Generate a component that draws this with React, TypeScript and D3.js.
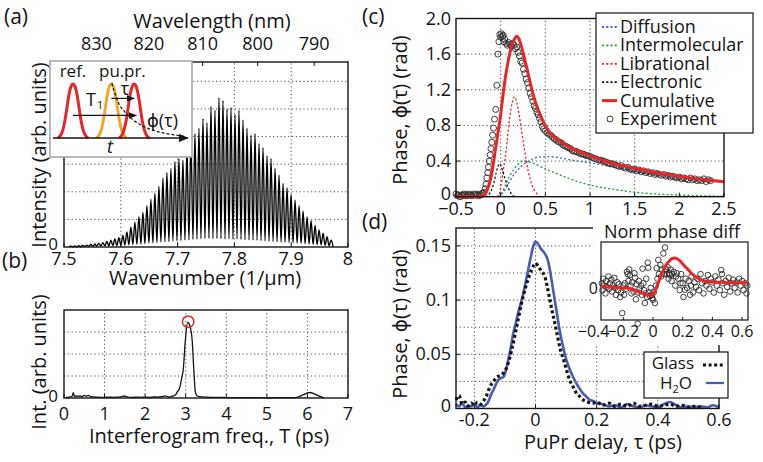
import React from 'react';
import * as d3 from 'd3';

const FONT = "'Open Sans', 'DejaVu Sans', sans-serif";
const INK = '#141414';
const RED = '#e5262b';
const GRID = { stroke: '#3a3a3a', strokeWidth: 0.9, strokeDasharray: '1.2 2.6' };

// ---------- (a) spectrum ----------
const wavenumberTicks = [7.5, 7.6, 7.7, 7.8, 7.9, 8];
const wavenumberLabels = ['7.5', '7.6', '7.7', '7.8', '7.9', '8'];
const wavelengthTicks = [830, 820, 810, 800, 790];
const intensityGrid = [1, 2, 3, 4, 5, 6];
const fringeStart = 7.512;
const fringePeriod = 0.00705;
const fringePeaks = [
  0.03, 0.04, 0.05, 0.06, 0.07, 0.09, 0.11, 0.13, 0.16, 0.2, 0.25, 0.29, 0.34, 0.42, 0.55, 0.72,
  0.9, 1.1, 1.25, 1.5, 1.72, 1.95, 2.2, 2.5, 2.7, 2.85, 3.1, 3.2, 3.15, 3.6, 4.0, 4.1, 4.3, 4.65,
  4.5, 5.1, 4.95, 5.4, 5.3, 5.0, 5.05, 4.8, 4.95, 4.6, 4.3, 4.05, 4.1, 3.75, 3.6, 3.3, 3.2, 2.85,
  2.6, 2.3, 2.15, 1.9, 1.7, 1.5, 1.3, 1.1, 0.95, 0.78, 0.62, 0.5, 0.37, 0.26,
];
const fringeTroughs = [
  0, 0.01, 0.01, 0.01, 0.02, 0.02, 0.02, 0.03, 0.03, 0.04, 0.04, 0.05, 0.05, 0.06, 0.07, 0.08,
  0.09, 0.1, 0.11, 0.12, 0.14, 0.15, 0.16, 0.18, 0.19, 0.2, 0.22, 0.23, 0.24, 0.25, 0.26, 0.27,
  0.28, 0.3, 0.3, 0.31, 0.3, 0.31, 0.3, 0.29, 0.3, 0.28, 0.29, 0.27, 0.26, 0.26, 0.25, 0.24, 0.23,
  0.22, 0.21, 0.2, 0.19, 0.18, 0.17, 0.16, 0.15, 0.14, 0.13, 0.12, 0.11, 0.1, 0.09, 0.08, 0.06,
  0.04, 0,
];
// schematic inset
const pulseProfile = [0, 0.03, 0.1, 0.25, 0.5, 0.78, 0.95, 1, 0.95, 0.78, 0.5, 0.25, 0.1, 0.03, 0];
const pulseTimes = [0, 0.96, 1.53];
const pulseColors = ['#e5262b', '#f2a62a', '#e5262b'];
const phaseDecay: [number, number][] = [
  [0.97, 1], [1.05, 0.8], [1.15, 0.62], [1.3, 0.47], [1.5, 0.33], [1.8, 0.2], [2.2, 0.1], [2.6, 0.05], [2.8, 0.03],
];

// ---------- (b) interferogram ----------
const freqTicks = [0, 1, 2, 3, 4, 5, 6, 7];
const freqSpectrum: [number, number][] = [
  [0.05, 0.04], [0.1, 0.03], [0.15, 0.05], [0.2, 0.08], [0.23, 0.24], [0.26, 0.06], [0.3, 0.1], [0.35, 0.07],
  [0.4, 0.09], [0.45, 0.06], [0.5, 0.12], [0.55, 0.08], [0.6, 0.12], [0.65, 0.07], [0.7, 0.05], [0.8, 0.04],
  [0.9, 0.03], [1.0, 0.03], [1.1, 0.04], [1.2, 0.03], [1.3, 0.04], [1.4, 0.05], [1.5, 0.09], [1.55, 0.05],
  [1.6, 0.03], [1.7, 0.03], [1.8, 0.04], [1.9, 0.03], [2.0, 0.04], [2.1, 0.03], [2.2, 0.05], [2.3, 0.04],
  [2.4, 0.06], [2.5, 0.1], [2.55, 0.06], [2.6, 0.05], [2.7, 0.1], [2.75, 0.15], [2.8, 0.3], [2.85, 0.45],
  [2.9, 0.9], [2.94, 1.3], [2.99, 2.6], [3.05, 3.45], [3.1, 3.3], [3.16, 2.6], [3.2, 1.27], [3.24, 0.25],
  [3.28, 0.1], [3.35, 0.06], [3.4, 0.05], [3.5, 0.04], [3.6, 0.03], [3.8, 0.03], [4.0, 0.02], [4.2, 0.02],
  [4.5, 0.02], [5.0, 0.01], [5.5, 0.02], [5.7, 0.02], [5.8, 0.07], [5.9, 0.15], [6.0, 0.23], [6.07, 0.25],
  [6.15, 0.2], [6.25, 0.12], [6.31, 0.07], [6.4, 0.01],
];
const peakMarker: [number, number] = [3.06, 3.47];

// ---------- (c) phase decomposition ----------
const tauTicksC = [-0.5, 0, 0.5, 1, 1.5, 2, 2.5];
const tauLabelsC = ['\u22120.5', '0', '0.5', '1', '1.5', '2', '2.5'];
const phaseTicksC = [0, 0.4, 0.8, 1.2, 1.6, 2.0];
const phaseLabelsC = ['0', '0.4', '0.8', '1.2', '1.6', '2.0'];
const diffusion: [number, number][] = [
  [-0.03, 0], [0.05, 0.08], [0.1, 0.17], [0.15, 0.25], [0.2, 0.31], [0.25, 0.36], [0.3, 0.39], [0.35, 0.42],
  [0.4, 0.44], [0.5, 0.45], [0.6, 0.445], [0.7, 0.43], [0.8, 0.41], [1.0, 0.38], [1.25, 0.335], [1.5, 0.29],
  [1.75, 0.25], [2.0, 0.215], [2.25, 0.185], [2.5, 0.16],
];
const intermolecular: [number, number][] = [
  [-0.03, 0], [0.0, 0.02], [0.05, 0.12], [0.1, 0.23], [0.15, 0.31], [0.2, 0.37], [0.25, 0.4], [0.3, 0.395],
  [0.35, 0.38], [0.4, 0.36], [0.5, 0.31], [0.6, 0.27], [0.75, 0.21], [1.0, 0.13], [1.25, 0.085], [1.5, 0.05],
  [1.75, 0.03], [2.0, 0.018], [2.25, 0.01], [2.5, 0.006],
];
const librational: [number, number][] = [
  [-0.05, 0], [-0.02, 0.02], [0.0, 0.1], [0.03, 0.3], [0.07, 0.6], [0.1, 0.88], [0.13, 1.06], [0.155, 1.12],
  [0.18, 1.06], [0.21, 0.9], [0.24, 0.7], [0.275, 0.48], [0.31, 0.28], [0.35, 0.13], [0.4, 0.04], [0.44, 0], [0.5, 0],
];
const electronic: [number, number][] = [
  [-0.17, 0], [-0.12, 0.04], [-0.08, 0.14], [-0.05, 0.27], [-0.013, 0.37], [0.02, 0.3], [0.05, 0.2],
  [0.08, 0.11], [0.11, 0.05], [0.14, 0.01], [0.16, 0],
];
const cumulative: [number, number][] = [
  [-0.5, 0], [-0.25, 0], [-0.2, 0.01], [-0.17, 0.04], [-0.15, 0.08], [-0.12, 0.17], [-0.09, 0.32], [-0.06, 0.52],
  [-0.03, 0.72], [0, 0.92], [0.025, 1.13], [0.05, 1.32], [0.08, 1.5], [0.105, 1.62], [0.13, 1.71], [0.155, 1.77],
  [0.18, 1.8], [0.2, 1.78], [0.22, 1.73], [0.25, 1.62], [0.28, 1.5], [0.31, 1.37], [0.35, 1.2], [0.4, 1.03],
  [0.45, 0.9], [0.5, 0.8], [0.55, 0.72], [0.6, 0.67], [0.7, 0.6], [0.8, 0.54], [0.9, 0.5], [1.0, 0.46],
  [1.2, 0.39], [1.4, 0.34], [1.6, 0.3], [1.8, 0.26], [2.0, 0.23], [2.2, 0.2], [2.35, 0.185], [2.5, 0.168],
];
const experimentC: [number, number][] = [
  [-0.5, 0.03], [-0.485, 0.01], [-0.47, 0.02], [-0.455, 0.0], [-0.44, 0.02], [-0.425, 0.01], [-0.41, 0.03],
  [-0.395, 0.02], [-0.38, 0.01], [-0.365, 0.03], [-0.35, 0.02], [-0.335, 0.02], [-0.32, 0.01], [-0.305, 0.03],
  [-0.29, 0.02], [-0.275, 0.03], [-0.26, 0.02], [-0.245, 0.01], [-0.23, 0.03], [-0.215, 0.02], [-0.2, 0.04],
  [-0.185, 0.05], [-0.174, 0.09], [-0.165, 0.14], [-0.155, 0.21], [-0.145, 0.27], [-0.137, 0.33], [-0.128, 0.4],
  [-0.118, 0.47], [-0.108, 0.54], [-0.099, 0.61], [-0.09, 0.69], [-0.08, 0.77], [-0.069, 0.87], [-0.055, 0.98],
  [-0.043, 1.25], [-0.031, 1.6], [-0.02, 1.74], [-0.01, 1.82], [0.0, 1.79], [0.01, 1.83], [0.02, 1.8],
  [0.03, 1.81], [0.035, 1.74], [0.045, 1.77], [0.06, 1.72], [0.075, 1.7], [0.09, 1.73], [0.105, 1.71],
  [0.12, 1.69], [0.135, 1.72], [0.15, 1.7], [0.165, 1.66], [0.18, 1.68], [0.195, 1.62], [0.21, 1.58],
  [0.225, 1.52], [0.24, 1.5], [0.255, 1.43], [0.27, 1.38], [0.285, 1.32], [0.3, 1.28], [0.315, 1.22],
  [0.33, 1.16], [0.345, 1.12], [0.36, 1.07], [0.375, 1.02], [0.39, 0.99], [0.405, 0.95], [0.42, 0.92],
  [0.435, 0.88], [0.45, 0.84], [0.465, 0.79], [0.48, 0.76], [0.5, 0.74], [0.52, 0.72], [0.54, 0.7],
  [0.56, 0.69], [0.58, 0.67], [0.6, 0.65], [0.62, 0.64], [0.64, 0.62], [0.66, 0.61], [0.68, 0.6], [0.7, 0.58],
  [0.72, 0.57], [0.74, 0.56], [0.76, 0.55], [0.78, 0.54], [0.8, 0.52], [0.82, 0.51], [0.84, 0.51], [0.86, 0.5],
  [0.88, 0.49], [0.9, 0.48], [0.92, 0.48], [0.94, 0.47], [0.96, 0.46], [0.98, 0.46], [1.0, 0.45], [1.025, 0.44],
  [1.05, 0.43], [1.075, 0.42], [1.1, 0.41], [1.125, 0.41], [1.15, 0.4], [1.175, 0.39], [1.2, 0.38],
  [1.225, 0.37], [1.25, 0.37], [1.275, 0.36], [1.3, 0.35], [1.325, 0.34], [1.35, 0.35], [1.375, 0.33],
  [1.4, 0.32], [1.425, 0.33], [1.45, 0.31], [1.475, 0.3], [1.5, 0.31], [1.525, 0.29], [1.55, 0.3],
  [1.575, 0.28], [1.6, 0.29], [1.625, 0.27], [1.65, 0.28], [1.675, 0.26], [1.7, 0.27], [1.725, 0.25],
  [1.75, 0.26], [1.775, 0.25], [1.8, 0.24], [1.825, 0.25], [1.85, 0.23], [1.875, 0.24], [1.9, 0.22],
  [1.925, 0.23], [1.95, 0.22], [1.975, 0.21], [2.0, 0.22], [2.025, 0.2], [2.05, 0.21], [2.075, 0.2],
  [2.1, 0.19], [2.125, 0.21], [2.15, 0.19], [2.175, 0.2], [2.2, 0.18], [2.225, 0.19], [2.25, 0.18],
  [2.275, 0.2], [2.3, 0.17], [2.325, 0.19], [2.35, 0.18],
];
const legendC = ['Diffusion', 'Intermolecular', 'Librational', 'Electronic', 'Cumulative', 'Experiment'];
const colorsC = ['#5468b8', '#2f9a4e', '#e5262b', '#141414', '#e5262b', '#333'];

// ---------- (d) glass vs water ----------
const tauTicksD = [-0.2, 0, 0.2, 0.4, 0.6];
const tauLabelsD = ['-0.2', '0', '0.2', '0.4', '0.6'];
const phaseGridD = [0.025, 0.05, 0.075, 0.1, 0.125, 0.15];
const phaseTicksD = [0, 0.05, 0.1, 0.15];
const phaseLabelsD = ['0', '0.05', '0.1', '0.15'];
const water: [number, number][] = [
  [-0.26, 0.004], [-0.25, 0.002], [-0.24, 0.005], [-0.23, 0.001], [-0.22, 0.003], [-0.21, 0.002], [-0.2, 0.004],
  [-0.19, 0.001], [-0.18, 0.003], [-0.17, 0.002], [-0.16, 0.004], [-0.155, 0.006], [-0.145, 0.013],
  [-0.138, 0.017], [-0.13, 0.022], [-0.122, 0.026], [-0.113, 0.028], [-0.105, 0.029], [-0.097, 0.035],
  [-0.089, 0.045], [-0.081, 0.056], [-0.073, 0.069], [-0.065, 0.078], [-0.057, 0.088], [-0.048, 0.097],
  [-0.04, 0.106], [-0.032, 0.117], [-0.024, 0.128], [-0.016, 0.139], [-0.008, 0.149], [0, 0.154],
  [0.008, 0.152], [0.016, 0.148], [0.025, 0.145], [0.036, 0.14], [0.042, 0.135], [0.047, 0.128],
  [0.055, 0.114], [0.063, 0.1], [0.071, 0.086], [0.079, 0.072], [0.087, 0.061], [0.095, 0.051],
  [0.103, 0.043], [0.112, 0.036], [0.123, 0.029], [0.134, 0.023], [0.145, 0.018], [0.155, 0.014],
  [0.166, 0.011], [0.177, 0.008], [0.188, 0.007], [0.2, 0.005], [0.22, 0.004], [0.24, 0.002], [0.26, 0.003],
  [0.28, 0.001], [0.3, 0.004], [0.32, 0.002], [0.34, 0.001], [0.36, 0.003], [0.38, 0.002], [0.4, 0.001],
  [0.42, 0.004], [0.44, 0.006], [0.46, 0.003], [0.48, 0.001], [0.5, 0.002], [0.52, 0.001], [0.54, 0.002],
  [0.56, 0.001], [0.58, 0.003], [0.6, 0.001],
];
const glass: [number, number][] = [
  [-0.26, 0.008], [-0.25, 0.012], [-0.24, 0.004], [-0.23, 0.006], [-0.22, 0.002], [-0.21, 0.005], [-0.2, 0.003],
  [-0.19, 0.006], [-0.18, 0.004], [-0.17, 0.007], [-0.16, 0.012], [-0.152, 0.018], [-0.143, 0.023],
  [-0.135, 0.026], [-0.127, 0.029], [-0.118, 0.03], [-0.11, 0.031], [-0.102, 0.034], [-0.094, 0.038],
  [-0.086, 0.045], [-0.078, 0.054], [-0.07, 0.064], [-0.062, 0.075], [-0.054, 0.086], [-0.046, 0.097],
  [-0.038, 0.106], [-0.029, 0.115], [-0.021, 0.122], [-0.013, 0.128], [-0.006, 0.132], [0, 0.134],
  [0.007, 0.132], [0.014, 0.129], [0.022, 0.126], [0.03, 0.122], [0.038, 0.113], [0.047, 0.1], [0.055, 0.089],
  [0.063, 0.079], [0.071, 0.068], [0.079, 0.057], [0.087, 0.049], [0.095, 0.042], [0.103, 0.034],
  [0.112, 0.026], [0.123, 0.02], [0.134, 0.014], [0.145, 0.011], [0.155, 0.008], [0.17, 0.006], [0.188, 0.005],
  [0.2, 0.006], [0.22, 0.003], [0.24, 0.005], [0.26, 0.002], [0.28, 0.004], [0.3, 0.002], [0.32, 0.005],
  [0.34, 0.002], [0.36, 0.003], [0.38, 0.004], [0.4, 0.002], [0.42, 0.003], [0.44, 0.004], [0.46, 0.002],
  [0.48, 0.003], [0.5, 0.001], [0.52, 0.002], [0.54, 0.001],
];
// inset: normalised phase difference
const insetTicks = [-0.4, -0.2, 0, 0.2, 0.4, 0.6];
const insetLabels = ['\u22120.4', '\u22120.2', '0', '0.2', '0.4', '0.6'];
const diffFit: [number, number][] = [
  [-0.35, 0.03], [-0.3, 0.02], [-0.256, 0.015], [-0.2, 0.0], [-0.166, -0.01], [-0.13, -0.04], [-0.1, -0.08],
  [-0.07, -0.12], [-0.042, -0.15], [-0.02, -0.16], [-0.005, -0.15], [0.013, -0.08], [0.03, 0.06],
  [0.047, 0.21], [0.065, 0.35], [0.081, 0.46], [0.1, 0.55], [0.114, 0.6], [0.13, 0.64], [0.148, 0.65],
  [0.165, 0.63], [0.182, 0.59], [0.2, 0.52], [0.227, 0.43], [0.255, 0.33], [0.283, 0.25], [0.315, 0.19],
  [0.35, 0.15], [0.4, 0.13], [0.46, 0.12], [0.55, 0.11], [0.64, 0.11],
];
const diffPoints: [number, number][] = [
  [-0.345, 0.1], [-0.34, -0.05], [-0.335, 0.2], [-0.33, 0.05], [-0.32, -0.12], [-0.315, 0.15], [-0.31, 0.02],
  [-0.3, 0.25], [-0.295, -0.02], [-0.29, 0.1], [-0.28, 0.18], [-0.275, -0.08], [-0.27, 0.05], [-0.26, 0.22],
  [-0.255, 0.0], [-0.25, -0.15], [-0.24, 0.12], [-0.235, -0.05], [-0.23, 0.08], [-0.22, -0.2], [-0.215, -0.1],
  [-0.207, -0.55], [-0.2, 0.05], [-0.195, -0.15], [-0.19, 0.1], [-0.18, -0.02], [-0.175, 0.35], [-0.17, 0.3],
  [-0.165, 0.15], [-0.16, 0.4], [-0.155, 0.28], [-0.15, 0.05], [-0.145, -0.12], [-0.14, 0.12], [-0.13, -0.08],
  [-0.125, 0.32], [-0.12, 0.22], [-0.115, -0.25], [-0.11, 0.08], [-0.103, -0.78], [-0.1, -0.1], [-0.095, 0.15],
  [-0.09, -0.02], [-0.08, 0.05], [-0.075, -0.15], [-0.07, 0.42], [-0.065, 0.1], [-0.06, -0.05], [-0.054, -0.33],
  [-0.05, -0.12], [-0.045, 0.2], [-0.04, -0.2], [-0.035, 0.55], [-0.032, 0.44], [-0.025, -0.1], [-0.02, -0.18],
  [-0.015, 0.0], [-0.01, -0.15], [-0.005, -0.22], [0.0, -0.26], [0.005, -0.1], [0.013, -0.33], [0.02, 0.05],
  [0.025, 0.43], [0.03, 0.2], [0.036, 0.61], [0.04, 0.3], [0.05, 0.5], [0.055, 0.25], [0.06, 0.4], [0.07, 0.75],
  [0.075, 0.3], [0.081, 0.88], [0.085, 0.42], [0.09, 0.38], [0.095, 0.3], [0.1, 0.45], [0.105, 0.2],
  [0.11, 0.32], [0.114, 0.28], [0.12, 0.4], [0.125, 0.15], [0.13, 0.3], [0.14, 0.35], [0.15, 0.05],
  [0.155, 0.25], [0.16, 0.32], [0.17, 0.2], [0.18, -0.05], [0.185, 0.1], [0.19, 0.3], [0.2, 0.1], [0.205, -0.2],
  [0.215, -0.04], [0.22, 0.2], [0.23, 0.0], [0.24, 0.15], [0.25, -0.15], [0.255, 0.05], [0.26, 0.25],
  [0.27, -0.1], [0.28, 0.12], [0.29, 0.02], [0.3, 0.2], [0.31, -0.05], [0.32, 0.3], [0.33, 0.1], [0.34, -0.12],
  [0.35, 0.15], [0.36, 0.05], [0.37, 0.28], [0.38, -0.02], [0.39, 0.2], [0.4, 0.12], [0.41, -0.1], [0.42, 0.25],
  [0.43, 0.05], [0.44, 0.18], [0.45, -0.05], [0.46, 0.39], [0.465, 0.3], [0.47, 0.1], [0.48, -0.15],
  [0.49, 0.15], [0.5, 0.02], [0.51, 0.22], [0.52, -0.08], [0.53, 0.1], [0.54, 0.18], [0.55, 0.0], [0.56, 0.12],
  [0.57, -0.1], [0.58, 0.2], [0.59, 0.05], [0.6, 0.15], [0.61, -0.05], [0.62, 0.1], [0.63, -0.12], [0.635, 0.05],
];

type Sc = d3.ScaleLinear<number, number>;

function Box({ x, y }: { x: Sc; y: Sc }) {
  const [x0, x1] = x.range();
  const [y0, y1] = y.range();
  return (
    <rect x={x0} y={Math.min(y0, y1)} width={x1 - x0} height={Math.abs(y0 - y1)} fill="none" stroke={INK} strokeWidth={1.4} />
  );
}

export default function App() {
  const tick = { fontSize: 18, fill: INK };
  const title = { fontSize: 20, fill: INK };

  // ----- scales -----
  const xA = d3.scaleLinear().domain([7.5, 8]).range([64, 348]);
  const yA = d3.scaleLinear().domain([0, 6.7]).range([247, 62]);
  const wl = (nm: number) => xA((2 * Math.PI * 1000) / nm - 0.013);
  const xB = d3.scaleLinear().domain([0, 7]).range([64, 348]);
  const yB = d3.scaleLinear().domain([0, 4]).range([398, 310]);
  const xC = d3.scaleLinear().domain([-0.5, 2.5]).range([456, 724]);
  const yC = d3.scaleLinear().domain([0, 2]).range([196.7, 18.5]);
  const xD = d3.scaleLinear().domain([-0.26, 0.6]).range([456, 719]);
  const yD = d3.scaleLinear().domain([0, 0.1665]).range([408.5, 228]);
  const xI = d3.scaleLinear().domain([-0.35, 0.64]).range([601, 748]);
  const yI = d3.scaleLinear().domain([-0.7, 1.0]).range([320, 242]);
  const sx = d3.scaleLinear().domain([0, 1]).range([73, 113]);
  const sy = d3.scaleLinear().domain([0, 1]).range([138, 83]);

  // ----- (a) spectrum path -----
  const specPts: [number, number][] = [];
  fringePeaks.forEach((p, i) => {
    specPts.push([fringeStart + (i - 0.5) * fringePeriod, fringeTroughs[i] ?? 0]);
    specPts.push([fringeStart + i * fringePeriod, p]);
  });
  specPts.push([fringeStart + (fringePeaks.length - 0.5) * fringePeriod, fringeTroughs[fringePeaks.length] ?? 0]);
  const specLine = d3.line<[number, number]>().x((d) => xA(d[0])).y((d) => yA(d[1])).curve(d3.curveMonotoneX);

  const bLine = d3.line<[number, number]>().x((d) => xB(d[0])).y((d) => yB(d[1])).curve(d3.curveMonotoneX);
  const cLine = d3.line<[number, number]>().x((d) => xC(d[0])).y((d) => yC(d[1])).curve(d3.curveMonotoneX);
  const dLine = d3.line<[number, number]>().x((d) => xD(d[0])).y((d) => yD(d[1])).curve(d3.curveMonotoneX);
  const iLine = d3.line<[number, number]>().x((d) => xI(d[0])).y((d) => yI(d[1])).curve(d3.curveMonotoneX);
  const pulseStep = 0.75 / (pulseProfile.length - 1);
  const pulseLine = (t0: number) =>
    d3.line<number>().x((_, i) => sx(t0 - 0.375 + i * pulseStep)).y((v) => sy(v)).curve(d3.curveBasis)(pulseProfile) || '';
  const decayLine = d3.line<[number, number]>().x((d) => sx(d[0])).y((d) => sy(d[1])).curve(d3.curveMonotoneX);

  const compC = [diffusion, intermolecular, librational, electronic];

  return (
    <svg width={763} height={462} style={{ position: 'absolute', left: 0, top: 0, background: '#fff' }} fontFamily={FONT}>
      <defs>
        <marker id="arr" viewBox="0 0 10 10" refX="9" refY="5" markerWidth="7" markerHeight="7" orient="auto">
          <path d="M0,1 L10,5 L0,9 z" fill={INK} />
        </marker>
      </defs>
      <rect width={763} height={462} fill="#fff" />

      {/* ================= (a) ================= */}
      <g>
        {wavenumberTicks.slice(1, -1).map((t) => (
          <line key={'ga' + t} x1={xA(t)} x2={xA(t)} y1={yA(0)} y2={yA(6.7)} {...GRID} />
        ))}
        {intensityGrid.map((v) => (
          <line key={'gha' + v} x1={64} x2={348} y1={yA(v)} y2={yA(v)} {...GRID} />
        ))}
        <path d={specLine(specPts) || ''} fill="none" stroke="#000" strokeWidth={1.35} />
        <Box x={xA} y={yA} />
        {wavenumberTicks.map((t, i) => (
          <g key={'ta' + t}>
            <line x1={xA(t)} x2={xA(t)} y1={247} y2={243} stroke={INK} />
            <text x={xA(t)} y={265} textAnchor="middle" {...tick}>{wavenumberLabels[i]}</text>
          </g>
        ))}
        {wavelengthTicks.map((nm) => (
          <g key={'wl' + nm}>
            <line x1={wl(nm)} x2={wl(nm)} y1={62} y2={66} stroke={INK} />
            <text x={wl(nm)} y={50} textAnchor="middle" {...tick}>{nm}</text>
          </g>
        ))}
        <text x={58} y={250} textAnchor="end" fontSize={17} fill={INK}>0</text>
        <text x={212} y={28} textAnchor="middle" {...title}>Wavelength (nm)</text>
        <text x={205} y={285} textAnchor="middle" {...title}>Wavenumber (1/µm)</text>
        <text transform="translate(46,155) rotate(-90)" textAnchor="middle" {...title}>Intensity (arb. units)</text>
        <text x={4} y={24} fontSize={21} fill={INK}>(a)</text>

        {/* schematic inset */}
        <rect x={50} y={61} width={142} height={96} fill="#fff" stroke="#a8a8a8" strokeWidth={1.6} />
        {pulseTimes.map((t, i) => (
          <path key={'pl' + i} d={pulseLine(t)} fill="none" stroke={pulseColors[i]} strokeWidth={3} />
        ))}
        <path d={decayLine(phaseDecay) || ''} fill="none" stroke={INK} strokeWidth={1.2} strokeDasharray="3 2" />
        <line x1={sx(-0.5)} x2={sx(2.87)} y1={sy(0)} y2={sy(0)} stroke={INK} strokeWidth={1.4} markerEnd="url(#arr)" />
        <line x1={sx(pulseTimes[1])} x2={sx(pulseTimes[2])} y1={sy(0.72)} y2={sy(0.72)} stroke={INK} strokeWidth={1.2} markerEnd="url(#arr)" />
        <line x1={sx(pulseTimes[0])} x2={sx(pulseTimes[2] + 0.05)} y1={sy(0.41)} y2={sy(0.41)} stroke={INK} strokeWidth={1.2} markerEnd="url(#arr)" />
        <text x={sx(0)} y={77} textAnchor="middle" fontSize={17} fill={INK}>ref.</text>
        <text x={99} y={77} fontSize={17} fill={INK}>pu.</text>
        <text x={124} y={77} fontSize={17} fill={INK}>pr.</text>
        <text x={125} y={95} textAnchor="middle" fontSize={18} fill={INK}>τ</text>
        <text x={86} y={106} fontSize={18} fill={INK}>T</text>
        <text x={97} y={109} fontSize={11} fill={INK}>1</text>
        <text x={147} y={127} fontSize={18} fill={INK}>ϕ(τ)</text>
        <text x={110} y={153} textAnchor="middle" fontSize={18} fontStyle="italic" fill={INK}>t</text>
      </g>

      {/* ================= (b) ================= */}
      <g>
        {freqTicks.slice(1, -1).map((t) => (
          <line key={'gb' + t} x1={xB(t)} x2={xB(t)} y1={398} y2={310} {...GRID} />
        ))}
        {[1, 2, 3].map((v) => (
          <line key={'ghb' + v} x1={64} x2={348} y1={yB(v)} y2={yB(v)} {...GRID} />
        ))}
        <path d={bLine(freqSpectrum) || ''} fill="none" stroke={INK} strokeWidth={1.3} />
        <circle cx={xB(peakMarker[0])} cy={yB(peakMarker[1])} r={5.7} fill="none" stroke={RED} strokeWidth={1.5} />
        <Box x={xB} y={yB} />
        {freqTicks.map((t) => (
          <g key={'tb' + t}>
            <line x1={xB(t)} x2={xB(t)} y1={398} y2={394} stroke={INK} />
            <text x={xB(t)} y={420} textAnchor="middle" {...tick}>{t}</text>
          </g>
        ))}
        <text x={58} y={402} textAnchor="end" fontSize={17} fill={INK}>0</text>
        <text x={209} y={443} textAnchor="middle" {...title}>Interferogram freq., T (ps)</text>
        <text transform="translate(46,362) rotate(-90)" textAnchor="middle" {...title}>Int. (arb. units)</text>
        <text x={2} y={268} fontSize={21} fill={INK}>(b)</text>
      </g>

      {/* ================= (c) ================= */}
      <g>
        {tauTicksC.slice(1, -2).map((t) => (
          <line key={'gc' + t} x1={xC(t)} x2={xC(t)} y1={yC(0)} y2={yC(2)} {...GRID} />
        ))}
        {phaseTicksC.slice(1, -1).map((v) => (
          <line key={'ghc' + v} x1={456} x2={724} y1={yC(v)} y2={yC(v)} {...GRID} />
        ))}
        {compC.map((s, i) => (
          <path key={'cc' + i} d={cLine(s) || ''} fill="none" stroke={colorsC[i]} strokeWidth={1.3} strokeDasharray="2.2 2" />
        ))}
        {experimentC.map((p, i) => (
          <circle key={'ec' + i} cx={xC(p[0])} cy={yC(p[1])} r={3} fill="none" stroke="#2a2a2a" strokeWidth={0.9} />
        ))}
        <path d={cLine(cumulative) || ''} fill="none" stroke={RED} strokeWidth={3} />
        <Box x={xC} y={yC} />
        {tauTicksC.map((t, i) => (
          <g key={'tc' + t}>
            <line x1={xC(t)} x2={xC(t)} y1={196.7} y2={192.7} stroke={INK} />
            <text x={xC(t)} y={215} textAnchor="middle" {...tick}>{tauLabelsC[i]}</text>
          </g>
        ))}
        {phaseTicksC.map((v, i) => (
          <g key={'tcy' + v}>
            <line x1={456} x2={460} y1={yC(v)} y2={yC(v)} stroke={INK} />
            <text x={451} y={yC(v) + (i === 0 ? 3 : 6)} textAnchor="end" {...tick}>{phaseLabelsC[i]}</text>
          </g>
        ))}
        <text transform="translate(407,110) rotate(-90)" textAnchor="middle" {...title}>Phase, ϕ(τ) (rad)</text>
        <text x={362} y={24} fontSize={21} fill={INK}>(c)</text>
        {/* legend */}
        <rect x={596} y={13} width={157} height={120} fill="#fff" stroke={INK} strokeWidth={1.2} />
        {legendC.map((name, i) => {
          const by = 33 + i * 18.4;
          return (
            <g key={'lc' + name}>
              {i < 4 && (
                <line x1={602} x2={617} y1={by - 6} y2={by - 6} stroke={colorsC[i]} strokeWidth={1.8} strokeDasharray="2.2 2" />
              )}
              {i === 4 && <line x1={602} x2={617} y1={by - 6} y2={by - 6} stroke={RED} strokeWidth={3} />}
              {i === 5 && <circle cx={610} cy={by - 6} r={3} fill="none" stroke="#2a2a2a" strokeWidth={0.9} />}
              <text x={620} y={by} fontSize={18} fill={INK}>{name}</text>
            </g>
          );
        })}
      </g>

      {/* ================= (d) ================= */}
      <g>
        {tauTicksD.slice(0, -1).map((t) => (
          <line key={'gd' + t} x1={xD(t)} x2={xD(t)} y1={yD(0)} y2={228} {...GRID} />
        ))}
        {phaseGridD.map((v) => (
          <line key={'ghd' + v} x1={456} x2={719} y1={yD(v)} y2={yD(v)} {...GRID} />
        ))}
        <path d={dLine(water) || ''} fill="none" stroke="#4a5bb0" strokeWidth={2.6} />
        <path d={dLine(glass) || ''} fill="none" stroke={INK} strokeWidth={3.2} strokeDasharray="3 2.6" />
        <Box x={xD} y={yD} />
        {tauTicksD.map((t, i) => (
          <g key={'td' + t}>
            <line x1={xD(t)} x2={xD(t)} y1={408.5} y2={404.5} stroke={INK} />
            <text x={xD(t)} y={426} textAnchor="middle" {...tick}>{tauLabelsD[i]}</text>
          </g>
        ))}
        {phaseTicksD.map((v, i) => (
          <g key={'tdy' + v}>
            <line x1={456} x2={460} y1={yD(v)} y2={yD(v)} stroke={INK} />
            <text x={451} y={yD(v) + (i === 0 ? 3 : 6)} textAnchor="end" {...tick}>{phaseLabelsD[i]}</text>
          </g>
        ))}
        <text transform="translate(407,324) rotate(-90)" textAnchor="middle" {...title}>Phase, ϕ(τ) (rad)</text>
        <text x={603} y={449} textAnchor="middle" {...title}>PuPr delay, τ (ps)</text>
        <text x={362} y={229} fontSize={21} fill={INK}>(d)</text>

        {/* cover for inset */}
        <rect x={593} y={219} width={170} height={126} fill="#fff" />
        {/* inset */}
        <rect x={601} y={242} width={147} height={78} fill="#fff" stroke={INK} strokeWidth={1.2} />
        {insetTicks.filter((t) => t > -0.35).map((t) => (
          <line key={'it' + t} x1={xI(t)} x2={xI(t)} y1={320} y2={317} stroke={INK} />
        ))}
        {diffPoints.map((p, i) => (
          <circle key={'dp' + i} cx={xI(p[0])} cy={yI(p[1])} r={2.8} fill="none" stroke="#2a2a2a" strokeWidth={0.9} />
        ))}
        <path d={iLine(diffFit) || ''} fill="none" stroke={RED} strokeWidth={3} />
        {insetTicks.map((t, i) => (
          <text key={'il' + t} x={xI(t)} y={337} textAnchor="middle" fontSize={16} fill={INK}>{insetLabels[i]}</text>
        ))}
        <text x={598} y={yI(0) + 6} textAnchor="end" fontSize={16} fill={INK}>0</text>
        <text x={672} y={238} textAnchor="middle" fontSize={18} fill={INK}>Norm phase diff</text>

        {/* legend */}
        <rect x={644} y={352} width={84} height={46} fill="#fff" stroke={INK} strokeWidth={1.2} />
        <text x={694} y={369} textAnchor="end" fontSize={17} fill={INK}>Glass</text>
        <line x1={703} x2={724} y1={365} y2={365} stroke={INK} strokeWidth={3.2} strokeDasharray="3 2.6" />
        <text x={660} y={389} fontSize={17} fill={INK}>
          H<tspan dy={4} fontSize={11}>2</tspan><tspan dy={-4}>O</tspan>
        </text>
        <line x1={706} x2={724} y1={383} y2={383} stroke="#4a5bb0" strokeWidth={2.2} />
      </g>
    </svg>
  );
}
